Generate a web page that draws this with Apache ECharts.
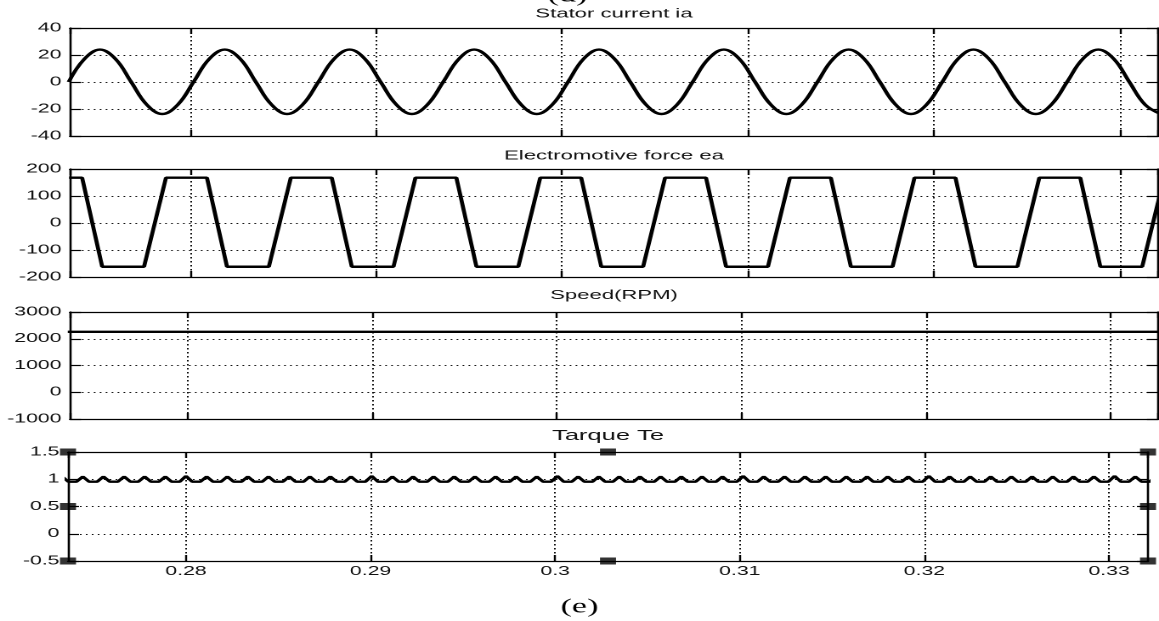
<!DOCTYPE html>
<html>
<head>
<meta charset="utf-8">
<title>Stator current / EMF / Speed / Torque</title>
<script src="https://cdn.jsdelivr.net/npm/echarts@6/dist/echarts.min.js"></script>
<style>
html, body { margin: 0; padding: 0; background: #fff; overflow: hidden; }
/* 原图是横向拉宽的 matlab 截图, 这里整体横向拉伸 */
#chart { width: 682px; height: 621px; transform: scaleX(1.69941); transform-origin: 0 0; }
</style>
</head>
<body>
<div id="chart"></div>
<script>
var SX = 1159 / 682; // 横向拉伸倍数

// 子图标题
var titles = ['Stator current ia', 'Electromotive force ea', 'Speed(RPM)', 'Tarque Te'];
// 各子图时间轴范围 (s)
var xRanges = [[0.27355, 0.33204], [0.27355, 0.33204], [0.27362, 0.33256], [0.27361, 0.33211]];
// 各子图纵轴 [min, max, interval]
var yRanges = [[-40, 40, 20], [-200, 200, 100], [-1000, 3000, 1000], [-0.5, 1.5, 0.5]];

// 定子电流 ia
var iaTime = [0.27348, 0.27432, 0.27516, 0.27600, 0.27684, 0.27767, 0.27851, 0.27935,
    0.28019, 0.28103, 0.28187, 0.28271, 0.28354, 0.28438, 0.28522, 0.28606,
    0.28690, 0.28774, 0.28858, 0.28941, 0.29025, 0.29109, 0.29193, 0.29277,
    0.29361, 0.29445, 0.29528, 0.29612, 0.29696, 0.29780, 0.29864, 0.29948,
    0.30032, 0.30115, 0.30199, 0.30283, 0.30367, 0.30451, 0.30535, 0.30619,
    0.30702, 0.30786, 0.30870, 0.30954, 0.31038, 0.31122, 0.31206, 0.31289,
    0.31373, 0.31457, 0.31541, 0.31625, 0.31709, 0.31793, 0.31876, 0.31960,
    0.32044, 0.32128, 0.32212, 0.32296, 0.32380, 0.32463, 0.32547, 0.32631,
    0.32715, 0.32799, 0.32883, 0.32967, 0.33050, 0.33134, 0.33218];
var iaValue = [0, 17, 24, 17, 0, -16.7, -23.7, -16.7,
    0, 17, 24, 17, 0, -16.7, -23.7, -16.7,
    0, 17, 24, 17, 0, -16.7, -23.7, -16.7,
    0, 17, 24, 17, 0, -16.7, -23.7, -16.7,
    0, 17, 24, 17, 0, -16.7, -23.7, -16.7,
    0, 17, 24, 17, 0, -16.7, -23.7, -16.7,
    0, 17, 24, 17, 0, -16.7, -23.7, -16.7,
    0, 17, 24, 17, 0, -16.7, -23.7, -16.7,
    0, 17, 24, 17, 0, -16.7, -23.7];

// 反电动势 ea (梯形波)
var eaTime = [0.27350, 0.27420, 0.27528,
    0.27753, 0.27871, 0.28091, 0.28199,
    0.28424, 0.28542, 0.28762, 0.28870,
    0.29094, 0.29212, 0.29432, 0.29540,
    0.29765, 0.29883, 0.30103, 0.30211,
    0.30436, 0.30554, 0.30774, 0.30882,
    0.31107, 0.31225, 0.31445, 0.31553,
    0.31777, 0.31895, 0.32115, 0.32223,
    0.32448, 0.32566, 0.32786, 0.32894,
    0.33119, 0.33237];
var eaValue = [168, 168, -162,
    -162, 168, 168, -162,
    -162, 168, 168, -162,
    -162, 168, 168, -162,
    -162, 168, 168, -162,
    -162, 168, 168, -162,
    -162, 168, 168, -162,
    -162, 168, 168, -162,
    -162, 168, 168, -162,
    -162, 168];

// 转速
var spTime = [0.27350, 0.28500, 0.30000, 0.31500, 0.33260];
var spValue = [2260, 2260, 2260, 2260, 2260];

// 电磁转矩 Te
var teTime = [0.27295, 0.27329, 0.27363, 0.27407, 0.27441, 0.27475, 0.27519, 0.27553, 0.27587,
    0.27631, 0.27665, 0.27699, 0.27742, 0.27776, 0.27810, 0.27854, 0.27888, 0.27922,
    0.27966, 0.28000, 0.28034, 0.28078, 0.28112, 0.28146, 0.28190, 0.28224, 0.28258,
    0.28301, 0.28335, 0.28369, 0.28413, 0.28447, 0.28481, 0.28525, 0.28559, 0.28593,
    0.28637, 0.28671, 0.28705, 0.28748, 0.28782, 0.28816, 0.28860, 0.28894, 0.28928,
    0.28972, 0.29006, 0.29040, 0.29084, 0.29118, 0.29152, 0.29196, 0.29230, 0.29264,
    0.29307, 0.29341, 0.29375, 0.29419, 0.29453, 0.29487, 0.29531, 0.29565, 0.29599,
    0.29643, 0.29677, 0.29711, 0.29754, 0.29788, 0.29822, 0.29866, 0.29900, 0.29934,
    0.29978, 0.30012, 0.30046, 0.30090, 0.30124, 0.30158, 0.30202, 0.30236, 0.30270,
    0.30313, 0.30347, 0.30381, 0.30425, 0.30459, 0.30493, 0.30537, 0.30571, 0.30605,
    0.30649, 0.30683, 0.30717, 0.30761, 0.30795, 0.30829, 0.30872, 0.30906, 0.30940,
    0.30984, 0.31018, 0.31052, 0.31096, 0.31130, 0.31164, 0.31208, 0.31242, 0.31276,
    0.31319, 0.31353, 0.31387, 0.31431, 0.31465, 0.31499, 0.31543, 0.31577, 0.31611,
    0.31655, 0.31689, 0.31723, 0.31767, 0.31801, 0.31835, 0.31878, 0.31912, 0.31946,
    0.31990, 0.32024, 0.32058, 0.32102, 0.32136, 0.32170, 0.32214, 0.32248, 0.32282,
    0.32325, 0.32359, 0.32393, 0.32437, 0.32471, 0.32505, 0.32549, 0.32583, 0.32617,
    0.32661, 0.32695, 0.32729, 0.32773, 0.32807, 0.32841, 0.32884, 0.32918, 0.32952,
    0.32996, 0.33030, 0.33064, 0.33108, 0.33142, 0.33176, 0.33220, 0.33254, 0.33288];
var teValue = [0.955, 1.05, 0.955, 0.955, 1.05, 0.955, 0.955, 1.05, 0.955,
    0.955, 1.05, 0.955, 0.955, 1.05, 0.955, 0.955, 1.05, 0.955,
    0.955, 1.06, 0.955, 0.955, 1.05, 0.955, 0.955, 1.05, 0.955,
    0.955, 1.05, 0.955, 0.955, 1.05, 0.955, 0.955, 1.05, 0.955,
    0.955, 1.05, 0.955, 0.955, 1.05, 0.955, 0.955, 1.05, 0.955,
    0.955, 1.06, 0.955, 0.955, 1.05, 0.955, 0.955, 1.05, 0.955,
    0.955, 1.05, 0.955, 0.955, 1.05, 0.955, 0.955, 1.05, 0.955,
    0.955, 1.05, 0.955, 0.955, 1.05, 0.955, 0.955, 1.05, 0.955,
    0.955, 1.06, 0.955, 0.955, 1.05, 0.955, 0.955, 1.05, 0.955,
    0.955, 1.05, 0.955, 0.955, 1.05, 0.955, 0.955, 1.05, 0.955,
    0.955, 1.05, 0.955, 0.955, 1.05, 0.955, 0.955, 1.05, 0.955,
    0.955, 1.06, 0.955, 0.955, 1.05, 0.955, 0.955, 1.05, 0.955,
    0.955, 1.05, 0.955, 0.955, 1.05, 0.955, 0.955, 1.05, 0.955,
    0.955, 1.05, 0.955, 0.955, 1.05, 0.955, 0.955, 1.05, 0.955,
    0.955, 1.06, 0.955, 0.955, 1.05, 0.955, 0.955, 1.05, 0.955,
    0.955, 1.05, 0.955, 0.955, 1.05, 0.955, 0.955, 1.05, 0.955,
    0.955, 1.05, 0.955, 0.955, 1.05, 0.955, 0.955, 1.05, 0.955,
    0.955, 1.06, 0.955, 0.955, 1.05, 0.955, 0.955, 1.05, 0.955];

// 选中坐标轴时的控制点 (matlab 编辑状态)
var handleX = [0.27361, 0.27361, 0.27361, 0.30286, 0.30286, 0.33211, 0.33211, 0.33211];
var handleY = [1.5, 0.5, -0.5, 1.5, -0.5, 1.5, 0.5, -0.5];

function zip(a, b) {
    return a.map(function (v, i) { return [v, b[i]]; });
}

var black = '#000';
var labelFont = { color: '#111', fontFamily: 'Liberation Sans', fontSize: 12.5 };

var grids = [
    { left: 70 / SX, right: 682 - 1158 / SX, top: 28, height: 108 },
    { left: 70 / SX, right: 682 - 1158 / SX, top: 169, height: 108 },
    { left: 70 / SX, right: 682 - 1158 / SX, top: 312, height: 107 },
    { left: 68 / SX, right: 682 - 1148 / SX, top: 452, height: 109 }
];
grids.forEach(function (g) { g.outerBoundsMode = 'none'; g.containLabel = false; });

var titleCenter = [614, 614, 614, 608];
var titleTop = [7.5, 149.5, 289, 428.5];
var titleSize = [13, 13, 13, 15];

var xAxis = [], yAxis = [], title = [];
grids.forEach(function (g, i) {
    var xr = xRanges[i], yr = yRanges[i];
    ['bottom', 'top'].forEach(function (pos) {
        xAxis.push({
            type: 'value', gridIndex: i, position: pos,
            min: xr[0], max: xr[1], minInterval: 0.01, maxInterval: 0.01,
            axisLine: { show: true, onZero: false, lineStyle: { color: black, width: 1.3 } },
            axisTick: { show: true, inside: true, length: 6, lineStyle: { color: black, width: 1.2 } },
            axisLabel: Object.assign({
                show: pos === 'bottom' && i === 3, margin: 4,
                showMinLabel: false, showMaxLabel: false
            }, labelFont),
            splitLine: { show: pos === 'bottom', lineStyle: { color: '#111', width: 1, type: [1.5, 2.5] } }
        });
    });
    ['left', 'right'].forEach(function (pos) {
        yAxis.push({
            type: 'value', gridIndex: i, position: pos,
            min: yr[0], max: yr[1], interval: yr[2],
            axisLine: { show: true, onZero: false, lineStyle: { color: black, width: 1.3 } },
            axisTick: { show: true, inside: true, length: 6.5, lineStyle: { color: black, width: 1.2 } },
            axisLabel: Object.assign({
                show: pos === 'left', margin: 5,
                formatter: function (v) { return String(v); } // 不要千分位逗号
            }, labelFont),
            splitLine: { show: pos === 'left', lineStyle: { color: '#111', width: 1, type: [1, 2.5] } }
        });
    });
    title.push({
        text: titles[i],
        left: titleCenter[i] / SX, top: titleTop[i], padding: 0,
        textAlign: 'center', textVerticalAlign: 'top',
        textStyle: { fontFamily: 'Liberation Sans', fontSize: titleSize[i], fontWeight: 'normal', color: '#111' }
    });
});

function lineSeries(idx, data, width, smooth) {
    return {
        type: 'line', xAxisIndex: idx * 2, yAxisIndex: idx * 2, data: data,
        symbol: 'none', showSymbol: false, smooth: smooth, clip: true,
        lineStyle: { color: black, width: width }
    };
}

var chart = echarts.init(document.getElementById('chart'), null, { devicePixelRatio: 2 });
chart.setOption({
    animation: false,
    backgroundColor: '#fff',
    title: title,
    grid: grids,
    xAxis: xAxis,
    yAxis: yAxis,
    graphic: [
        { type: 'text', x: 567.5 / SX, y: 6, style: { text: '(d)', font: '20px "Liberation Serif"', fill: '#000', align: 'center', verticalAlign: 'bottom' } },
        { type: 'text', x: 579.5 / SX, y: 607, style: { text: '(e)', font: '20px "Liberation Serif"', fill: '#000', align: 'center', verticalAlign: 'middle' } }
    ],
    series: [
        lineSeries(0, zip(iaTime, iaValue), 2.4, 0.4),
        lineSeries(1, zip(eaTime, eaValue), 2.4, false),
        lineSeries(2, zip(spTime, spValue), 2.4, false),
        lineSeries(3, zip(teTime, teValue), 2.3, false),
        {
            type: 'scatter', xAxisIndex: 6, yAxisIndex: 6, data: zip(handleX, handleY),
            symbol: 'rect', symbolSize: [16 / SX, 7], clip: false, silent: true, z: 10,
            itemStyle: { color: black }
        }
    ]
});
</script>
</body>
</html>
